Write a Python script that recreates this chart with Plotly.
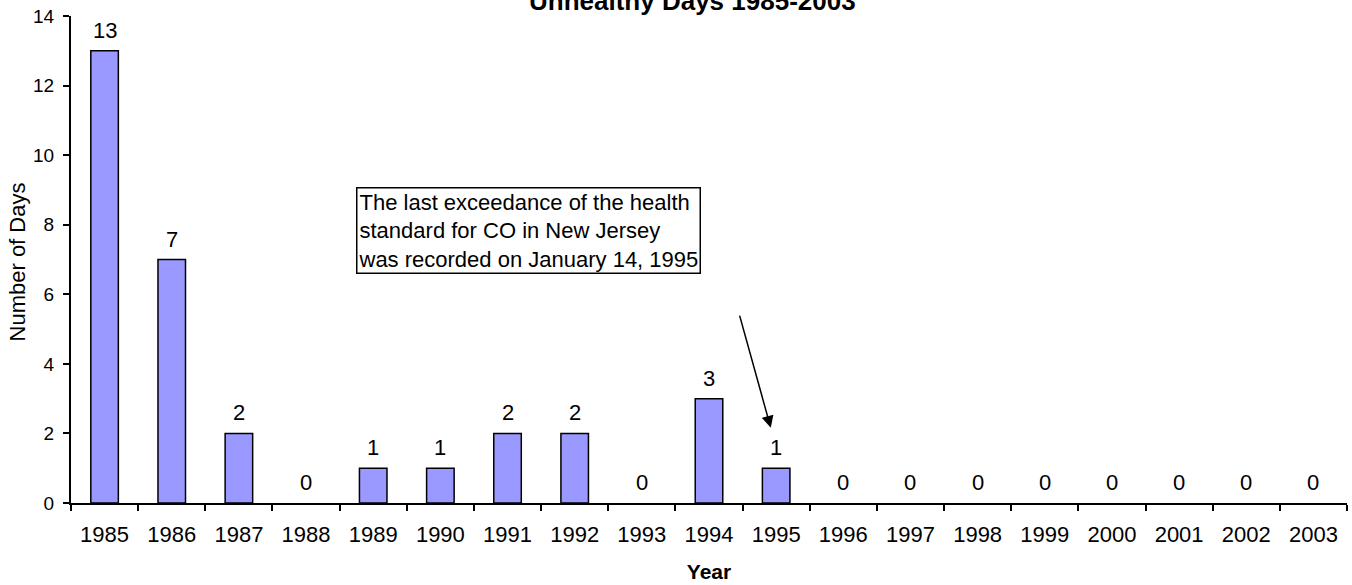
import plotly.graph_objects as go

years = ["1985", "1986", "1987", "1988", "1989", "1990", "1991", "1992", "1993", "1994",
         "1995", "1996", "1997", "1998", "1999", "2000", "2001", "2002", "2003"]
days = [13, 7, 2, 0, 1, 1, 2, 2, 0, 3, 1, 0, 0, 0, 0, 0, 0, 0, 0]

FONT = "Liberation Sans, Arial, sans-serif"
FS = 22

fig = go.Figure()
fig.add_trace(go.Bar(
    x=years, y=days, width=0.41,
    marker=dict(color="#9999FF",
                line=dict(color="black", width=[1.5 if v > 0 else 0 for v in days])),
    hoverinfo="x+y",
))

annotations = []
for i, v in enumerate(days):
    annotations.append(dict(x=i, y=v, xref="x", yref="y", text=str(v), showarrow=False,
                            yanchor="bottom", yshift=6, font=dict(family=FONT, size=FS, color="black")))

annotations.append(dict(
    xref="paper", yref="paper", x=0.2234, y=0.649, xanchor="left", yanchor="top",
    text="The last exceedance of the health<br>standard for CO in New Jersey<br>was recorded on January 14, 1995",
    align="left", showarrow=False, bordercolor="black", borderwidth=1.5, borderpad=1,
    bgcolor="white", font=dict(family=FONT, size=FS, color="black")))

annotations.append(dict(
    x=9.92, y=2.16, xref="x", yref="y", ax=9.45, ay=5.43, axref="x", ayref="y",
    text="", showarrow=True, arrowhead=2, arrowsize=1.6, arrowwidth=1.5, arrowcolor="black"))

annotations.append(dict(
    xref="paper", yref="paper", x=0.487, y=1, xanchor="center", yanchor="bottom", yshift=-2,
    text="<b>Unhealthy Days 1985-2003</b>", showarrow=False,
    font=dict(family=FONT, size=26, color="black")))

annotations.append(dict(
    xref="paper", yref="paper", x=-0.0419, y=0.495, xanchor="center", yanchor="middle",
    text="Number of Days", textangle=-90, showarrow=False,
    font=dict(family=FONT, size=22, color="black")))

fig.update_layout(
    width=1352, height=585,
    margin=dict(l=71, r=5, t=16, b=82),
    plot_bgcolor="white", paper_bgcolor="white",
    showlegend=False,
    font=dict(family=FONT, size=FS, color="black"),
    annotations=annotations,
    xaxis=dict(
        type="category", range=[-0.5, 18.5], showline=True, linecolor="black", linewidth=2,
        ticks="outside", tickson="boundaries", ticklen=6, tickwidth=2, tickcolor="black",
        showgrid=False, zeroline=False, ticklabelstandoff=11,
        tickfont=dict(family=FONT, size=FS),
        title=dict(text="<b>Year</b>", font=dict(family=FONT, size=21), standoff=18),
        automargin=False,
    ),
    yaxis=dict(
        range=[0, 14], dtick=2, showline=True, linecolor="black", linewidth=2,
        ticks="outside", ticklen=6, tickwidth=2, tickcolor="black",
        showgrid=False, zeroline=False, ticklabelstandoff=5,
        tickfont=dict(family=FONT, size=19),
        automargin=False,
    ),
)

fig.write_html("out.html", config={"displayModeBar": False},
               post_script="document.body.style.margin='0';document.body.style.padding='0';")
